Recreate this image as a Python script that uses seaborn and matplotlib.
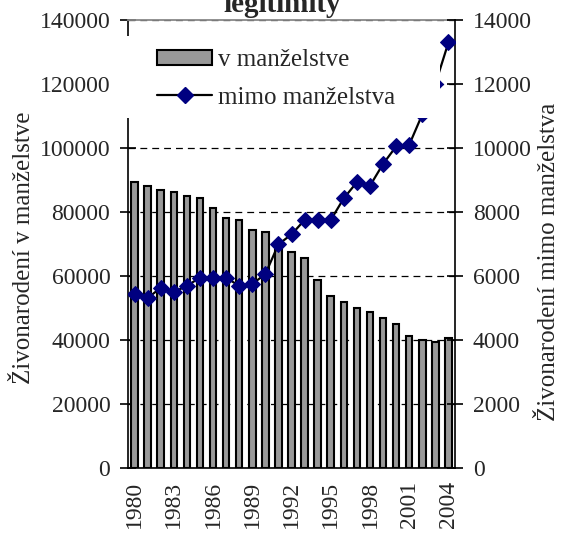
import numpy as np
import pandas as pd
import matplotlib
matplotlib.use("Agg")
import matplotlib.pyplot as plt
from matplotlib.patches import Rectangle
from matplotlib.lines import Line2D
from matplotlib.patches import Patch
import seaborn as sns

years = [str(y) for y in range(1980, 2005)]
v_manzelstve = [89300, 88200, 86900, 86200, 85000, 84400, 81200, 78200, 77500,
                74400, 73800, 69500, 67400, 65700, 58800, 53800, 52000, 50100,
                48900, 47000, 45100, 41400, 40100, 39500, 40700]
mimo_manzelstva = [5430, 5310, 5630, 5500, 5690, 5950, 5950, 5950, 5690, 5750,
                   6060, 6990, 7300, 7750, 7750, 7750, 8430, 8930, 8820, 9500,
                   10050, 10100, 11050, 12000, 13300]
shown_labels = ["1980", "1983", "1986", "1989", "1992", "1995", "1998", "2001", "2004"]

title = "legitimity"
left_label = "Živonarodení v manželstve"
right_label = "Živonarodení mimo manželstva"
leg_bar = "v manželstve"
leg_line = "mimo manželstva"

sns.set_style("white")
plt.rcParams['font.family'] = ['Liberation Serif', 'DejaVu Serif']

W, H = 563, 535
fig = plt.figure(figsize=(W / 100, H / 100), dpi=100)
x0, x1, yb, yt = 128, 455, 468, 20
ax = fig.add_axes([x0 / W, 1 - yb / H, (x1 - x0) / W, (yb - yt) / H])

df = pd.DataFrame({"year": years, "v": v_manzelstve, "m": mimo_manzelstva})

sns.barplot(data=df, x="year", y="v", ax=ax, color="#999999", saturation=1,
            edgecolor="black", linewidth=1.5, width=0.5, zorder=2)
ax.set_ylim(0, 140000)
ax.set_xlim(-0.5, len(years) - 0.5)
ax.set_yticks(np.arange(0, 140001, 20000))
ax.yaxis.grid(True, linestyle=(0, (5.5, 4)), color="black", linewidth=0.9)
ax.set_axisbelow(True)
for s in ["left", "bottom"]:
    ax.spines[s].set_color("black")
    ax.spines[s].set_linewidth(1.2)
ax.spines["right"].set_visible(False)
ax.spines["top"].set_color("#888888")
ax.spines["top"].set_linewidth(1.3)

# x ticks: labels at centres (every 3rd year), tick marks at boundaries
idx = [years.index(l) for l in shown_labels]
ax.set_xticks(idx)
ax.set_xticklabels(shown_labels, rotation=90)
ax.set_xticks(np.arange(-0.5, len(years), 1.0), minor=True)
ax.tick_params(axis="x", which="major", length=0, pad=9, labelsize=17)
ax.tick_params(axis="x", which="minor", direction="inout", length=10, width=1, color="#333333")
ax.tick_params(axis="y", direction="inout", length=11.5, width=1.2, color="black",
               labelsize=17, pad=7, left=True)
ax.set_xlabel("")
ax.set_ylabel(left_label, fontsize=18)
ax.yaxis.label.set_va("center")
ax.yaxis.set_label_coords(-0.318, 0.492)

ax2 = ax.twinx()
sns.lineplot(x=np.arange(len(years)), y=mimo_manzelstva, ax=ax2, color="black",
             linewidth=1.6, marker="D", markersize=8.5, markerfacecolor="#000080",
             markeredgecolor="#000080", zorder=3)
ax2.set_ylim(0, 14000)
ax2.set_yticks(np.arange(0, 14001, 2000))
for s in ["left", "top", "bottom"]:
    ax2.spines[s].set_visible(False)
ax2.spines["right"].set_color("black")
ax2.spines["right"].set_linewidth(1.2)
ax2.tick_params(axis="y", direction="inout", length=11.5, width=1.2, color="black",
                labelsize=17, pad=7, right=True)
ax2.set_ylabel(right_label, fontsize=18)
ax2.yaxis.label.set_va("center")
ax2.yaxis.set_label_coords(1.2875, 0.461)

# white legend area
rect = Rectangle((112 / W, 1 - 118 / H), (440 - 112) / W, (118 - 36) / H,
                 transform=fig.transFigure, facecolor="white", edgecolor="none",
                 zorder=4, clip_on=False)
ax2.add_patch(rect)
handles = [Patch(facecolor="#999999", edgecolor="black", linewidth=1.5),
           Line2D([], [], color="black", linewidth=1.6, marker="D", markersize=8.5,
                  markerfacecolor="#000080", markeredgecolor="#000080")]
ax2.legend(handles, [leg_bar, leg_line], loc="upper left",
           bbox_to_anchor=(157 / W, 1 - 49 / H), bbox_transform=fig.transFigure,
           frameon=False, borderpad=0, borderaxespad=0, fontsize=18,
           handlelength=2.2, handleheight=0.55, handletextpad=0.25,
           labelspacing=0.62, numpoints=1)

fig.text(282 / W, 1 - 12 / H, title, ha="center", va="baseline",
         fontsize=21, fontweight="bold")

fig.savefig("out.png", dpi=100)
